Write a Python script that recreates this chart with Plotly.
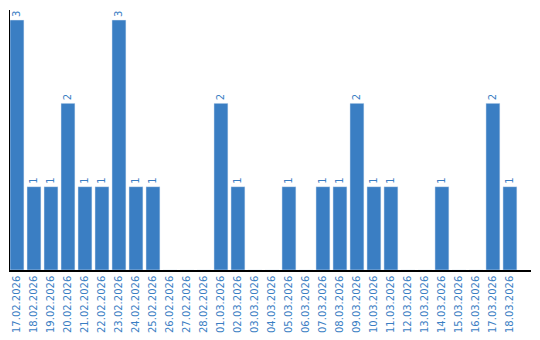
import plotly.graph_objects as go

dates = ["17.02.2026","18.02.2026","19.02.2026","20.02.2026","21.02.2026","22.02.2026",
         "23.02.2026","24.02.2026","25.02.2026","26.02.2026","27.02.2026","28.02.2026",
         "01.03.2026","02.03.2026","03.03.2026","04.03.2026","05.03.2026","06.03.2026",
         "07.03.2026","08.03.2026","09.03.2026","10.03.2026","11.03.2026","12.03.2026",
         "13.03.2026","14.03.2026","15.03.2026","16.03.2026","17.03.2026","18.03.2026"]
counts = [3,1,1,2,1,1,3,1,1,0,0,0,2,1,0,0,1,0,1,1,2,1,1,0,0,1,0,0,2,1]

blue = "#3a7ec3"
labels = [str(v) if v > 0 else "" for v in counts]

fig = go.Figure(go.Bar(
    x=list(range(len(dates))), y=counts, marker_color=blue, width=0.82,
    text=labels, textposition="outside", textangle=-90,
    textfont=dict(color=blue, size=10, family="DejaVu Sans"),
    cliponaxis=False, hoverinfo="skip"))

fig.update_layout(
    width=540, height=340, margin=dict(l=10, r=9, t=10, b=70),
    plot_bgcolor="white", paper_bgcolor="white", showlegend=False,
    xaxis=dict(tickmode="array", tickvals=list(range(len(dates))), ticktext=dates,
               tickangle=-90, tickfont=dict(color=blue, size=10, family="DejaVu Sans"),
               range=[-0.41, 30.24], showline=True, linecolor="black", linewidth=1.5,
               showgrid=False, ticks="", zeroline=False, automargin=False),
    yaxis=dict(range=[0, 3.12], showticklabels=False, showgrid=False, zeroline=False,
               showline=True, linecolor="black", linewidth=1, ticks="", automargin=False),
)
fig.write_html("out.html")
